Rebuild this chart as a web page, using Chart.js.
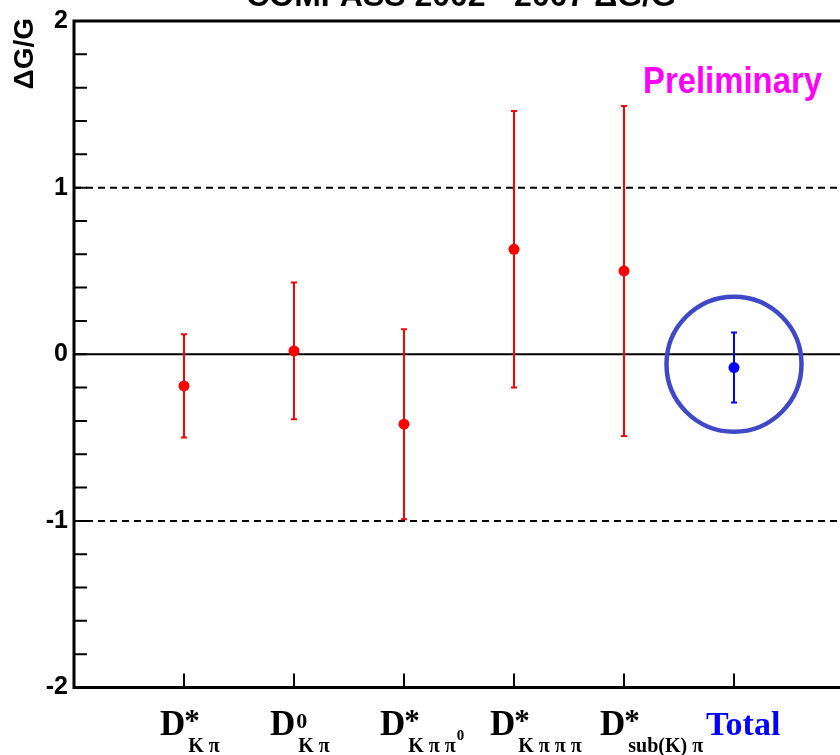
<!DOCTYPE html>
<html>
<head>
<meta charset="utf-8">
<script src="https://cdn.jsdelivr.net/npm/chart.js@4.4.0/dist/chart.umd.min.js"></script>
<style>
html, body { margin: 0; padding: 0; background: #fff; overflow: hidden; }
#wrap { width: 850px; height: 755px; }
</style>
</head>
<body>
<div id="wrap"><canvas id="grafica"></canvas></div>
<script>
// channels: base letter, superscript, subscript, superscript inside the subscript
const catBase = ['D', 'D', 'D', 'D', 'D', 'Total'];
const catSup = ['*', '0', '*', '*', '*', ''];
const catSub = ['K π', 'K π', 'K π π', 'K π π π', 'sub(K) π', ''];
const catSubSup = ['', '', '0', '', '', ''];
const catX = [1, 2, 3, 4, 5, 6];

// ΔG/G per channel and its error
const dgg = [-0.19, 0.02, -0.42, 0.63, 0.50];
const dggErr = [0.31, 0.41, 0.57, 0.83, 0.99];
const totalVal = [-0.08];
const totalErr = [0.21];
const totalMark = [-0.06];   // centre of the ring around the total

const yTickLabels = ['-2', '-1', '0', '1', '2'];
const refLines = [0, 1, -1];

const SANS = '"Liberation Sans", Arial, sans-serif';
const SERIF = '"Liberation Serif", "Times New Roman", serif';

function errBar(ctx, xs, ys, xv, v, e, col) {
  const px = xs.getPixelForValue(xv);
  const top = ys.getPixelForValue(v + e);
  const bot = ys.getPixelForValue(v - e);
  ctx.strokeStyle = col;
  ctx.lineWidth = 2;
  ctx.beginPath();
  ctx.moveTo(px, top); ctx.lineTo(px, bot);
  ctx.moveTo(px - 3, top); ctx.lineTo(px + 3, top);
  ctx.moveTo(px - 3, bot); ctx.lineTo(px + 3, bot);
  ctx.stroke();
}

const decor = {
  id: 'decor',
  beforeDatasetsDraw(chart) {
    const { ctx, chartArea: a, scales: { x, y } } = chart;
    ctx.save();
    ctx.strokeStyle = '#000';
    ctx.lineWidth = 2;
    refLines.forEach(v => {
      ctx.setLineDash(v === 0 ? [] : [7, 5]);
      const py = y.getPixelForValue(v);
      ctx.beginPath(); ctx.moveTo(a.left, py); ctx.lineTo(a.right, py); ctx.stroke();
    });
    ctx.setLineDash([]);
    dgg.forEach((v, i) => errBar(ctx, x, y, catX[i], v, dggErr[i], '#ff0000'));
    errBar(ctx, x, y, catX[5], totalVal[0], totalErr[0], '#0000ff');
    ctx.restore();
  },
  afterDraw(chart) {
    const { ctx, chartArea: a, scales: { x, y } } = chart;
    ctx.save();
    // frame
    ctx.strokeStyle = '#000';
    ctx.lineWidth = 3;
    ctx.beginPath();
    ctx.moveTo(a.right + 2, a.top); ctx.lineTo(a.left, a.top);
    ctx.lineTo(a.left, a.bottom); ctx.lineTo(a.right + 2, a.bottom);
    ctx.stroke();
    // inward ticks
    ctx.lineWidth = 2;
    ctx.beginPath();
    y.ticks.forEach(t => {
      const py = y.getPixelForValue(t.value);
      ctx.moveTo(a.left, py); ctx.lineTo(a.left + 13, py);
    });
    catX.forEach(v => {
      const px = x.getPixelForValue(v);
      ctx.moveTo(px, a.bottom); ctx.lineTo(px, a.bottom - 14);
    });
    ctx.stroke();

    // channel labels
    ctx.textBaseline = 'alphabetic';
    ctx.textAlign = 'left';
    catBase.forEach((b, i) => {
      const px = x.getPixelForValue(catX[i]);
      if (b === 'Total') {
        ctx.fillStyle = '#0000ff';
        ctx.font = 'bold 34px ' + SERIF;
        ctx.fillText(b, px - 28, 735);
        return;
      }
      ctx.fillStyle = '#000';
      ctx.font = 'bold 35px ' + SERIF;
      const left = px - 24;
      ctx.fillText(b, left, 735);
      const r = left + ctx.measureText(b).width;
      if (catSup[i] === '*') {
        ctx.font = 'bold 31px ' + SERIF;
        ctx.fillText(catSup[i], r - 1, 731);
      } else {
        ctx.font = 'bold 22px ' + SERIF;
        ctx.fillText(catSup[i], r + 1, 728);
      }
      ctx.font = 'bold 20px ' + SERIF;
      ctx.fillText(catSub[i], r + 3, 752);
      if (catSubSup[i]) {
        const w = ctx.measureText(catSub[i]).width;
        ctx.font = 'bold 15px ' + SERIF;
        ctx.fillText(catSubSup[i], r + 4 + w, 740);
      }
    });

    // y axis title
    ctx.fillStyle = '#000';
    ctx.font = 'bold 28px ' + SANS;
    ctx.save();
    ctx.translate(33, 18);
    ctx.rotate(-Math.PI / 2);
    ctx.textAlign = 'right';
    ctx.fillText('ΔG/G', 0, 0);
    ctx.restore();

    // title, partly above the canvas
    ctx.textAlign = 'center';
    ctx.font = 'bold 32px ' + SANS;
    ctx.fillText('COMPASS 2002 - 2007 ΔG/G', 461, 6);

    // Preliminary
    ctx.textAlign = 'left';
    ctx.fillStyle = '#ff00ff';
    ctx.font = 'bold 37px ' + SANS;
    const pw = ctx.measureText('Preliminary').width;
    ctx.save();
    ctx.translate(643, 93);
    ctx.scale(179 / pw, 1);
    ctx.fillText('Preliminary', 0, 0);
    ctx.restore();
    ctx.restore();
  }
};

const graph = document.querySelector('#grafica');

new Chart(graph, {
  type: 'scatter',
  data: {
    datasets: [
      {
        data: dgg.map((v, i) => ({ x: catX[i], y: v })),
        pointRadius: 5.5,
        pointBackgroundColor: '#ff0000',
        pointBorderWidth: 0
      },
      {
        data: totalVal.map(v => ({ x: catX[5], y: v })),
        pointRadius: 5.5,
        pointBackgroundColor: '#0000ff',
        pointBorderWidth: 0
      },
      {
        data: totalMark.map(v => ({ x: catX[5], y: v })),
        pointRadius: 67.5,
        pointBackgroundColor: 'rgba(0,0,0,0)',
        pointBorderColor: '#3f48c6',
        pointBorderWidth: 4.5
      }
    ]
  },
  options: {
    responsive: true,
    maintainAspectRatio: false,
    animation: false,
    events: [],
    layout: { autoPadding: false, padding: { top: 17.5, right: 6, bottom: 67.5, left: 0 } },
    plugins: { legend: { display: false }, tooltip: { enabled: false } },
    scales: {
      x: { type: 'linear', min: 0, max: 7, display: false },
      y: {
        min: -2, max: 2,
        afterFit(s) { s.width = 74; },
        grid: { display: false, drawTicks: false },
        border: { display: false },
        ticks: {
          stepSize: 0.2,
          maxTicksLimit: 40,
          autoSkip: false,
          padding: 6,
          color: '#000',
          font: { family: SANS, size: 25, weight: 'bold' },
          callback(v) {
            const r = Math.round(v);
            return Math.abs(v - r) < 1e-6 ? yTickLabels[r + 2] : '';
          }
        }
      }
    }
  },
  plugins: [decor]
});
</script>
</body>
</html>
